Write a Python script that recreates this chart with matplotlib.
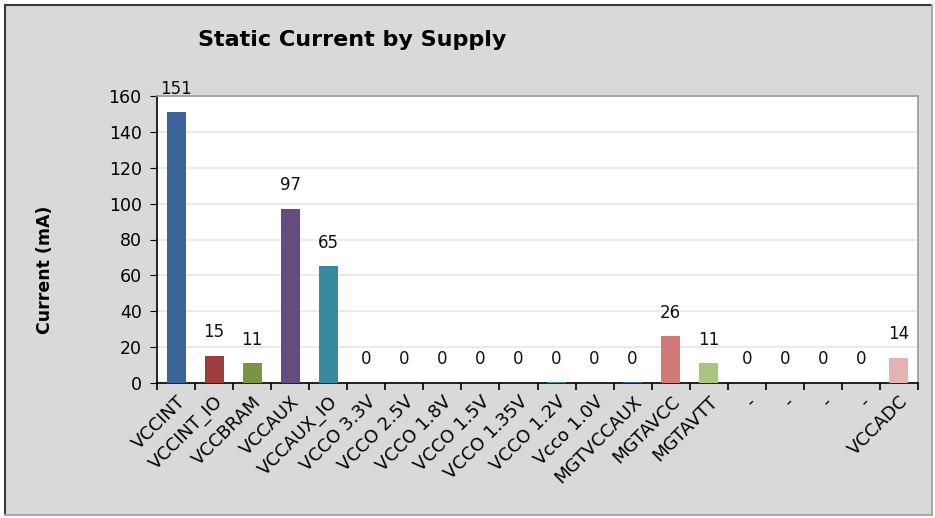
import matplotlib.pyplot as plt
import numpy as np
from matplotlib.lines import Line2D
from matplotlib.patches import Rectangle

plt.rcParams['font.family'] = ['DejaVu Sans']

supplies = ['VCCINT', 'VCCINT_IO', 'VCCBRAM', 'VCCAUX', 'VCCAUX_IO',
            'VCCO 3.3V', 'VCCO 2.5V', 'VCCO 1.8V', 'VCCO 1.5V', 'VCCO 1.35V',
            'VCCO 1.2V', 'Vcco 1.0V', 'MGTVCCAUX', 'MGTAVCC', 'MGTAVTT',
            '-', '-', '-', '-', 'VCCADC']
current_ma = [151, 15, 11, 97, 65, 0, 0, 0, 0, 0,
              0.45, 0, 0.45, 26, 11, 0, 0, 0, 0, 14]
bar_colors = ['#3d6498', '#9c3c3c', '#7a9444', '#644c80', '#388a9e',
              '#388a9e', '#388a9e', '#388a9e', '#388a9e', '#388a9e',
              '#388a9e', '#3d6498', '#3d6498', '#d27a7a', '#a9c57f',
              '#888888', '#888888', '#888888', '#888888', '#e4b4b4']

fig = plt.figure(figsize=(9.35, 5.18), dpi=100)
fig.patch.set_facecolor('white')

# gray chart area with sunken frame
fig.add_artist(Rectangle((5 / 935, 3 / 518), 927 / 935, 510 / 518,
                         transform=fig.transFigure, facecolor='#d9d9d9',
                         edgecolor='none', zorder=-10))
fig.add_artist(Line2D([5 / 935, 5 / 935], [3 / 518, 513 / 518], transform=fig.transFigure,
                      color='#3a3a3a', lw=1.5))
fig.add_artist(Line2D([5 / 935, 932 / 935], [513 / 518, 513 / 518], transform=fig.transFigure,
                      color='#3a3a3a', lw=1.5))
fig.add_artist(Line2D([932 / 935, 932 / 935], [3 / 518, 513 / 518], transform=fig.transFigure,
                      color='#a8a8a8', lw=1.5))
fig.add_artist(Line2D([5 / 935, 932 / 935], [3 / 518, 3 / 518], transform=fig.transFigure,
                      color='#a8a8a8', lw=1.5))

ax = fig.add_axes([157 / 935, 1 - 383 / 518, 761 / 935, 287 / 518])
ax.set_facecolor('white')

x = np.arange(len(supplies))
ax.bar(x, current_ma, width=0.5, color=bar_colors, zorder=3)

for xi, v in zip(x, current_ma):
    ax.annotate(f'{v:.0f}', (xi, v), xytext=(0, 17), textcoords='offset points',
                ha='center', va='center', fontsize=12, color='#111111',
                annotation_clip=False)

ax.set_xlim(-0.5, len(supplies) - 0.5)
ax.set_ylim(0, 160)
ax.set_yticks(np.arange(0, 161, 20))
ax.yaxis.grid(True, color='#e8e8e8', lw=1.2, zorder=0)
ax.tick_params(axis='y', labelsize=12.5, length=5, direction='out', pad=6)

ax.set_xticks(x)
ax.set_xticklabels(supplies, rotation=45, ha='right', rotation_mode='anchor', fontsize=13)
ax.set_xticks(np.arange(-0.5, len(supplies), 1), minor=True)
ax.tick_params(axis='x', which='major', length=0, pad=7)
ax.tick_params(axis='x', which='minor', length=5, direction='out', width=1.2)

for side in ['left', 'bottom']:
    ax.spines[side].set_color('black')
    ax.spines[side].set_linewidth(1.2)
for side in ['top', 'right']:
    ax.spines[side].set_color('#9a9a9a')
    ax.spines[side].set_linewidth(1.2)

fig.text(45 / 935, 1 - 270 / 518, 'Current (mA)', rotation=90, ha='center', va='center',
         fontsize=12.5, fontweight='bold')
fig.text(352 / 935, 1 - 40 / 518, 'Static Current by Supply', ha='center', va='center',
         fontsize=16, fontweight='bold')

fig.savefig('out.png', dpi=100, facecolor=fig.get_facecolor())
